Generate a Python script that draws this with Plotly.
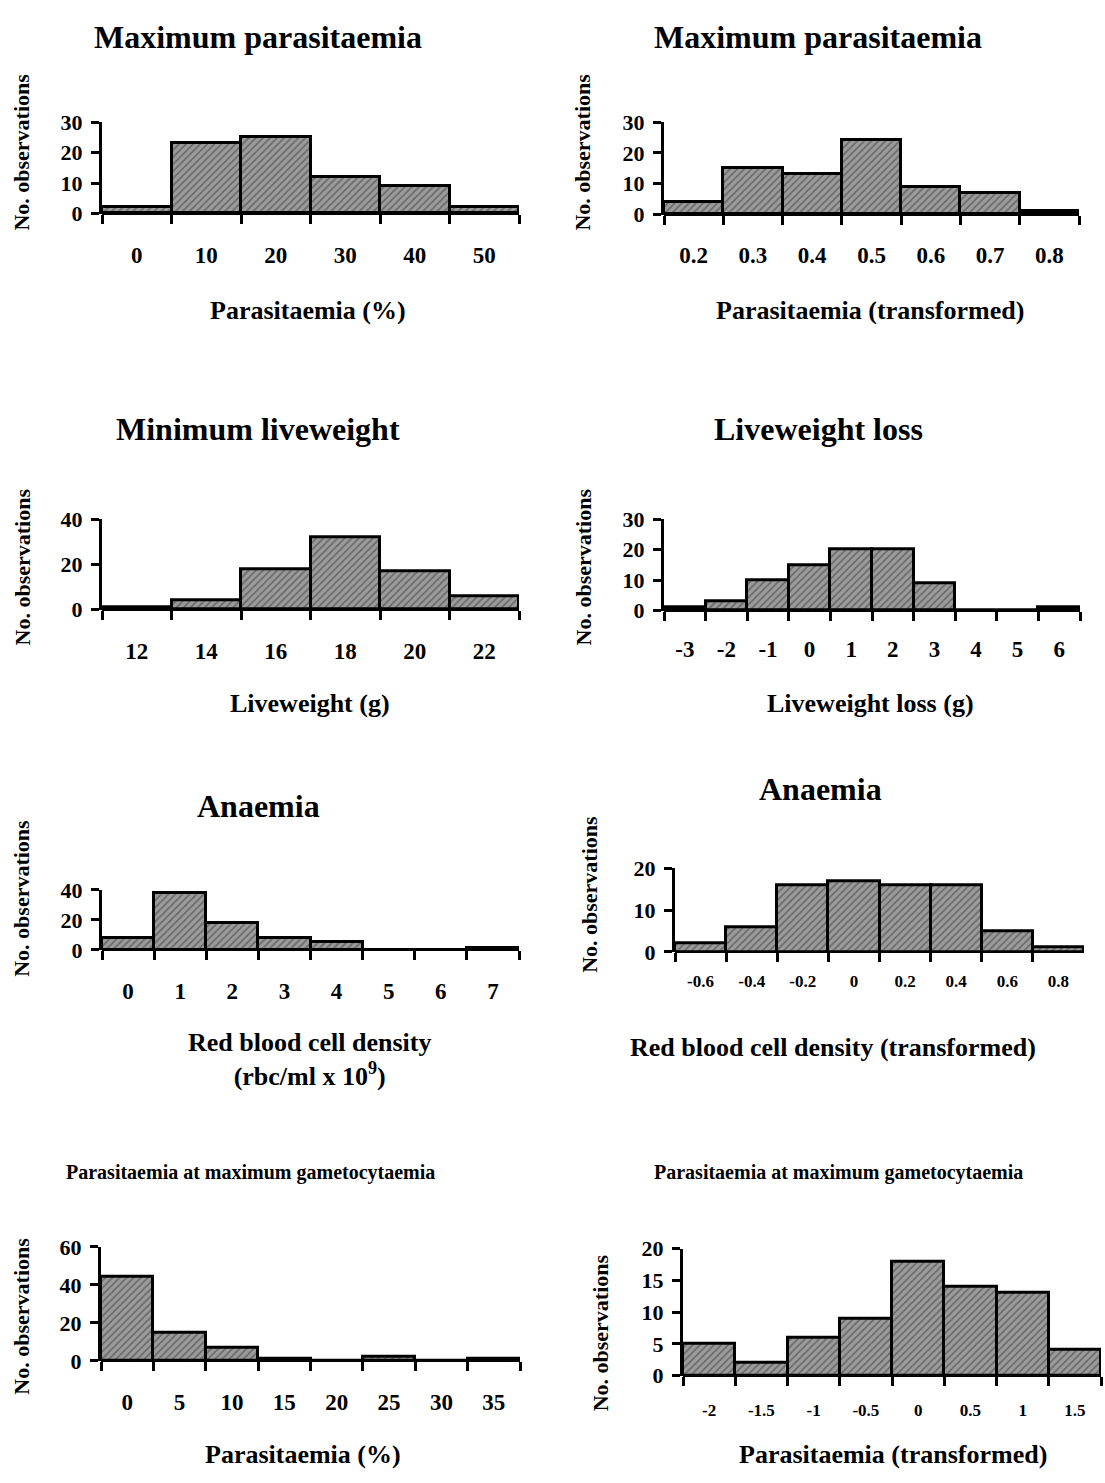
import plotly.graph_objects as go

W, H = 1105, 1483
SERIF = "Liberation Serif"

# ---- histogram data: bin labels and counts ----
max_par_pct_bins = ["0", "10", "20", "30", "40", "50"]
max_par_pct_counts = [2, 23, 25, 12, 9, 2]

max_par_tr_bins = ["0.2", "0.3", "0.4", "0.5", "0.6", "0.7", "0.8"]
max_par_tr_counts = [4, 15, 13, 24, 9, 7, 1]

min_lw_bins = ["12", "14", "16", "18", "20", "22"]
min_lw_counts = [1, 4, 18, 32, 17, 6]

lw_loss_bins = ["-3", "-2", "-1", "0", "1", "2", "3", "4", "5", "6"]
lw_loss_counts = [1, 3, 10, 15, 20, 20, 9, 0, 0, 1]

rbc_bins = ["0", "1", "2", "3", "4", "5", "6", "7"]
rbc_counts = [8, 38, 18, 8, 5, 0, 0, 1]

rbc_tr_bins = ["-0.6", "-0.4", "-0.2", "0", "0.2", "0.4", "0.6", "0.8"]
rbc_tr_counts = [2, 6, 16, 17, 16, 16, 5, 1]

gam_par_pct_bins = ["0", "5", "10", "15", "20", "25", "30", "35"]
gam_par_pct_counts = [44, 15, 7, 1, 0, 2, 0, 1]

gam_par_tr_bins = ["-2", "-1.5", "-1", "-0.5", "0", "0.5", "1", "1.5"]
gam_par_tr_counts = [5, 2, 6, 9, 18, 14, 13, 4]

# y-axis tick values for each panel
yticks_1 = [0, 10, 20, 30]
yticks_2 = [0, 10, 20, 30]
yticks_3 = [0, 20, 40]
yticks_4 = [0, 10, 20, 30]
yticks_5 = [0, 20, 40]
yticks_6 = [0, 10, 20]
yticks_7 = [0, 20, 40, 60]
yticks_8 = [0, 5, 10, 15, 20]

# panel text
titles = ["Maximum parasitaemia", "Maximum parasitaemia", "Minimum liveweight",
          "Liveweight loss", "Anaemia", "Anaemia",
          "Parasitaemia at maximum gametocytaemia",
          "Parasitaemia at maximum gametocytaemia"]
xtitles = ["Parasitaemia (%)", "Parasitaemia (transformed)", "Liveweight (g)",
           "Liveweight loss (g)", "Red blood cell density<br>(rbc/ml x 10<sup>9</sup>)",
           "Red blood cell density (transformed)", "Parasitaemia (%)",
           "Parasitaemia (transformed)"]
ytitle = "No. observations"

data = [
    (max_par_pct_bins, max_par_pct_counts, yticks_1),
    (max_par_tr_bins, max_par_tr_counts, yticks_2),
    (min_lw_bins, min_lw_counts, yticks_3),
    (lw_loss_bins, lw_loss_counts, yticks_4),
    (rbc_bins, rbc_counts, yticks_5),
    (rbc_tr_bins, rbc_tr_counts, yticks_6),
    (gam_par_pct_bins, gam_par_pct_counts, yticks_7),
    (gam_par_tr_bins, gam_par_tr_counts, yticks_8),
]

# pixel geometry of each plot area: left, right, top (max tick), bottom (zero)
geom = [
    (102, 519, 112, 205),
    (664, 1079, 112, 206),
    (102, 519, 516, 608),
    (664, 1080, 516, 609),
    (102, 519, 893, 954),
    (675, 1084, 871, 956),
    (101, 520, 1256, 1372),
    (683, 1101, 1258, 1387),
]
tick_font_size = [23, 23, 23, 23, 23, 17, 23, 17]
tick_standoff = [25, 24, 25, 22, 25, 17, 25, 22]
# text placement (pixel centres)
title_pos = [(258, 25), (818, 25), (258, 424), (818, 424), (258, 808), (820, 790),
             (250, 1180), (838, 1180)]
title_size = [32, 32, 32, 32, 32, 32, 20, 20]
xtitle_pos = [(308, 304), (870, 304), (310, 703), (870, 703), (309, 1065), (833, 1053),
              (303, 1467), (893, 1467)]
ytitle_pos = [(22, 143), (583, 143), (22, 565), (583, 565), (22, 902), (590, 898),
              (22, 1327), (600, 1344)]


def px_x(x):
    return x / W


def px_y(y):
    return 1 - y / H


fig = go.Figure()
layout = dict(
    width=W, height=H, margin=dict(l=0, r=0, t=0, b=0),
    paper_bgcolor="white", plot_bgcolor="white",
    showlegend=False, bargap=0,
    font=dict(family=SERIF, color="black", weight="bold"),
)
annotations = []

for i, ((bins, counts, yt), (x0, x1, yt_px, yb_px)) in enumerate(zip(data, geom)):
    n = i + 1
    xa = "x" if n == 1 else f"x{n}"
    ya = "y" if n == 1 else f"y{n}"
    fig.add_trace(go.Bar(
        x=bins, y=counts, xaxis=xa, yaxis=ya, width=1,
        marker=dict(
            color="#999999",
            line=dict(color="black", width=3),
            pattern=dict(shape="/", fgcolor="#3c3c3c", bgcolor="#9c9c9c",
                         size=5, solidity=0.35),
        ),
        hoverinfo="skip",
    ))
    # the baseline is drawn as the y zero line so it sits exactly under the bars
    layout["xaxis" if n == 1 else f"xaxis{n}"] = dict(
        type="category", domain=[px_x(x0), px_x(x1)], anchor=ya,
        range=[-0.5, len(bins) - 0.5], tickson="boundaries",
        ticks="outside", ticklen=9, tickwidth=3, tickcolor="black",
        showline=False, showgrid=False, zeroline=False,
        ticklabelstandoff=tick_standoff[i],
        tickfont=dict(family=SERIF, size=tick_font_size[i], color="black", weight="bold"),
    )
    layout["yaxis" if n == 1 else f"yaxis{n}"] = dict(
        domain=[px_y(yb_px), px_y(yt_px)], anchor=xa,
        range=[0, yt[-1]], tickvals=yt,
        ticks="outside", ticklen=8, tickwidth=3, tickcolor="black",
        showline=True, linewidth=3, linecolor="black",
        showgrid=False, zeroline=True, zerolinewidth=3, zerolinecolor="black",
        ticklabelstandoff=4, layer="above traces",
        tickfont=dict(family=SERIF, size=22, color="black", weight="bold"),
    )
    tx, ty = title_pos[i]
    annotations.append(dict(
        text=titles[i], x=px_x(tx), y=px_y(ty), xref="paper", yref="paper",
        xanchor="center", yanchor="middle", showarrow=False,
        font=dict(family=SERIF, size=title_size[i], color="black", weight="bold"),
    ))
    xx, xy = xtitle_pos[i]
    annotations.append(dict(
        text=xtitles[i], x=px_x(xx), y=px_y(xy), xref="paper", yref="paper",
        xanchor="center", yanchor="middle", showarrow=False,
        font=dict(family=SERIF, size=26, color="black", weight="bold"),
    ))
    yx, yy = ytitle_pos[i]
    annotations.append(dict(
        text=ytitle, x=px_x(yx), y=px_y(yy), xref="paper", yref="paper",
        xanchor="center", yanchor="middle", showarrow=False, textangle=-90,
        font=dict(family=SERIF, size=22, color="black", weight="bold"),
    ))

layout["annotations"] = annotations
fig.update_layout(**layout)
fig.write_html("out.html")
